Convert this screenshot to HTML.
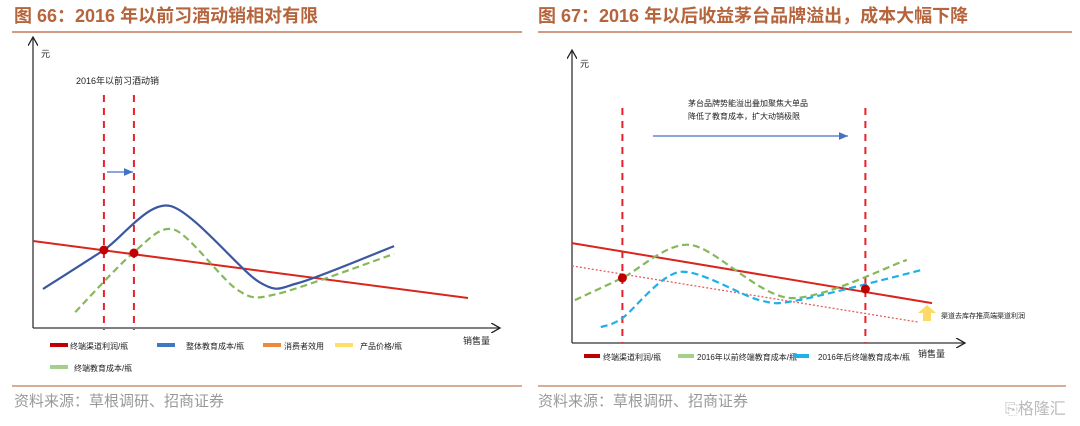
<!DOCTYPE html>
<html><head><meta charset="utf-8"><style>
body{margin:0;width:1080px;height:426px;background:#fff;overflow:hidden;font-family:"Liberation Sans","Noto Sans CJK SC",sans-serif}
svg{position:absolute;left:0;top:0}
</style></head><body>
<svg width="1080" height="426">
<defs><marker id="ah" markerWidth="8" markerHeight="8" refX="7" refY="4" orient="auto"><path d="M0,0 L7,4 L0,8" fill="none" stroke="#222" stroke-width="1"/></marker>
<marker id="bh" markerWidth="8" markerHeight="8" refX="7" refY="4" orient="auto"><path d="M0,1 L7,4 L0,7 Z" fill="#4472c4"/></marker></defs>
<g font-family="Liberation Sans,Noto Sans CJK SC,sans-serif" font-weight="bold" fill="#b5643c" font-size="18">
<text x="14" y="22">图 66：2016 年以前习酒动销相对有限</text>
<text x="538" y="22">图 67：2016 年以后收益茅台品牌溢出，成本大幅下降</text></g>
<line x1="12" y1="32" x2="522" y2="32" stroke="#c07a58" stroke-width="1.5"/>
<line x1="538" y1="32" x2="1072" y2="32" stroke="#c07a58" stroke-width="1.5"/>
<line x1="12" y1="386" x2="522" y2="386" stroke="#c07a58" stroke-width="1.2"/>
<line x1="538" y1="386" x2="1066" y2="386" stroke="#c07a58" stroke-width="1.2"/>
<g fill="#999" font-size="15"><text x="14" y="406">资料来源：草根调研、招商证券</text>
<text x="538" y="406">资料来源：草根调研、招商证券</text>
<text x="1005" y="414" fill="#bbb" font-size="16">⎘格隆汇</text></g>
<g id="L"></g>
<g id="R"></g>
</svg>
<script>
const NS='http://www.w3.org/2000/svg';
function mk(p,t,a){const e=document.createElementNS(NS,t);for(const k in a)e.setAttribute(k,a[k]);p.appendChild(e);return e;}
// Left chart data (sales volume x: 0-100, value y: 0-100)
const leftRedLine=[[0,29],[100,10]];
const leftBlue=[[2.3,13],[16.3,26],[31.5,40.7],[52,15.3],[61,15],[83,27.3]];
const leftGreen=[[9.7,5.3],[23,25],[32.6,32.7],[47,12.7],[56,11.3],[83,24.7]];
const leftVerticals=[16.3,23.2];
const leftDots=[[16.3,26],[23.2,25]];
// Right chart data
const rightRedLine=[[0,33.3],[100,13.3]];
const rightDotted=[[0,25.7],[96,7]];
const rightGreen=[[0.8,14.3],[14,21.7],[33,32.7],[60.5,15],[93,27.7]];
const rightBlue=[[8,5.3],[14,8.3],[30,23.7],[52,14.3],[63,14.3],[97,24.3]];
const rightVerticals=[14,81.5];
const rightDots=[[14,21.7],[81.5,18]];
function chart(g,ox,oy,w,h){return{x:v=>ox+v/100*w,y:v=>oy-v/100*h};}
function smooth(pts,s){const k=7;let d='M'+s.x(pts[0][0])+','+s.y(pts[0][1]);for(let i=0;i<pts.length-1;i++){const p0=pts[Math.max(0,i-1)],p1=pts[i],p2=pts[i+1],p3=pts[Math.min(pts.length-1,i+2)];const c1x=s.x(p1[0])+(s.x(p2[0])-s.x(p0[0]))/k,c1y=s.y(p1[1])+(s.y(p2[1])-s.y(p0[1]))/k,c2x=s.x(p2[0])-(s.x(p3[0])-s.x(p1[0]))/k,c2y=s.y(p2[1])-(s.y(p3[1])-s.y(p1[1]))/k;d+=` C${c1x},${c1y} ${c2x},${c2y} ${s.x(p2[0])},${s.y(p2[1])}`;}return d;}
function line(g,pts,s,a){return mk(g,'line',Object.assign({x1:s.x(pts[0][0]),y1:s.y(pts[0][1]),x2:s.x(pts[1][0]),y2:s.y(pts[1][1])},a));}
function txt(g,x,y,t,sz,fill){const e=mk(g,'text',{x:x,y:y,'font-size':sz||9,fill:fill||'#222'});e.textContent=t;return e;}
// LEFT
{const g=document.getElementById('L');const s=chart(g,33,328,435,300);
let e=mk(g,'line',{x1:33,y1:328,x2:33,y2:37,stroke:'#333','stroke-width':1.3,'marker-end':'url(#ah)'});

e=mk(g,'line',{x1:33,y1:328,x2:500,y2:328,stroke:'#333','stroke-width':1.3,'marker-end':'url(#ah)'});

txt(g,41,57,'元',9);txt(g,76,84,'2016年以前习酒动销',9);
leftVerticals.forEach(v=>{e=mk(g,'line',{x1:s.x(v),y1:95,x2:s.x(v),y2:330,stroke:'#e8202a','stroke-width':2,'stroke-dasharray':'7,6'});});
e=mk(g,'line',{x1:107,y1:172,x2:133,y2:172,stroke:'#4472c4','stroke-width':1.3,'marker-end':'url(#bh)'});
e=line(g,leftRedLine,s,{stroke:'#d9251c','stroke-width':2});
e=mk(g,'path',{d:smooth(leftBlue,s),fill:'none',stroke:'#3a57a0','stroke-width':2.2});
e=mk(g,'path',{d:smooth(leftGreen,s),fill:'none',stroke:'#86b85a','stroke-width':2.2,'stroke-dasharray':'7,4'});
leftDots.forEach(p=>{e=mk(g,'circle',{cx:s.x(p[0]),cy:s.y(p[1]),r:4.5,fill:'#c00000'});});
const lg=[[50,346,'#c00000','终端渠道利润/瓶',70],[157,346,'#3d79c0','整体教育成本/瓶',186],[263,346,'#f0883a','消费者效用',284],[335,346,'#ffe066','产品价格/瓶',360],[50,368,'#a6cf8c','终端教育成本/瓶',74]];
lg.forEach(l=>{e=mk(g,'rect',{x:l[0],y:l[1]-3,width:18,height:4,fill:l[2]});txt(g,l[4],l[1]+3,l[3],8);});
txt(g,463,344,'销售量',9);}
// RIGHT
{const g=document.getElementById('R');const s=chart(g,572,343,360,300);
let e=mk(g,'line',{x1:572,y1:343,x2:572,y2:50,stroke:'#333','stroke-width':1.3,'marker-end':'url(#ah)'});

e=mk(g,'line',{x1:572,y1:343,x2:965,y2:343,stroke:'#333','stroke-width':1.3,'marker-end':'url(#ah)'});

txt(g,580,67,'元',9);txt(g,688,106,'茅台品牌势能溢出叠加聚焦大单品',8);txt(g,688,119,'降低了教育成本，扩大动销极限',8);
rightVerticals.forEach(v=>{e=mk(g,'line',{x1:s.x(v),y1:108,x2:s.x(v),y2:343,stroke:'#e8202a','stroke-width':2,'stroke-dasharray':'7,6'});});
e=mk(g,'line',{x1:653,y1:136,x2:848,y2:136,stroke:'#4472c4','stroke-width':1.3,'marker-end':'url(#bh)'});
e=line(g,rightRedLine,s,{stroke:'#d9251c','stroke-width':2});
e=line(g,rightDotted,s,{stroke:'#e06060','stroke-width':1.3,'stroke-dasharray':'2,2'});
e=mk(g,'path',{d:smooth(rightGreen,s),fill:'none',stroke:'#86b85a','stroke-width':2.2,'stroke-dasharray':'7,4'});
e=mk(g,'path',{d:smooth(rightBlue,s),fill:'none',stroke:'#1eb0e8','stroke-width':2.2,'stroke-dasharray':'7,4'});
rightDots.forEach(p=>{e=mk(g,'circle',{cx:s.x(p[0]),cy:s.y(p[1]),r:4.5,fill:'#c00000'});});
e=mk(g,'path',{d:'M927,305 L936,313 L931,313 L931,321 L923,321 L923,313 L918,313 Z',fill:'#ffd966'});
txt(g,941,318,'渠道去库存推高端渠道利润',7);
const lg=[[584,'#c00000','终端渠道利润/瓶',603],[678,'#a6cf8c','2016年以前终端教育成本/瓶',697],[793,'#1eb0e8','2016年后终端教育成本/瓶',818]];
lg.forEach(l=>{e=mk(g,'rect',{x:l[0],y:354,width:16,height:4,fill:l[1]});txt(g,l[3],360,l[2],8);});
txt(g,918,357,'销售量',9);}
</script>
</body></html>
